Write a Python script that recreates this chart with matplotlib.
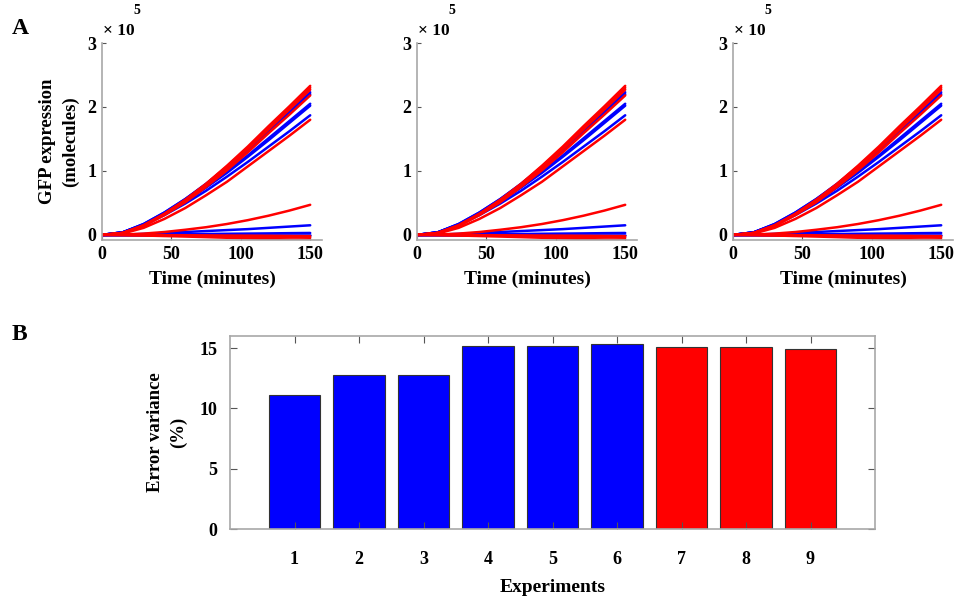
import matplotlib
matplotlib.use("Agg")
import matplotlib.pyplot as plt

plt.rcParams['font.family'] = ['Liberation Serif', 'DejaVu Serif']
plt.rcParams['font.weight'] = 'bold'

# ---- data: panel A (GFP expression, units of 1e5 molecules) ----
time_min = [0, 15, 30, 45, 60, 75, 90, 105, 120, 135, 150]

blue_curves = [
    [0, 0.04, 0.17, 0.35, 0.56, 0.80, 1.06, 1.34, 1.63, 1.93, 2.23],
    [0, 0.04, 0.17, 0.35, 0.56, 0.79, 1.05, 1.32, 1.61, 1.90, 2.20],
    [0, 0.04, 0.16, 0.33, 0.53, 0.75, 0.99, 1.24, 1.51, 1.78, 2.05],
    [0, 0.04, 0.16, 0.33, 0.52, 0.74, 0.97, 1.22, 1.48, 1.75, 2.02],
    [0, 0.04, 0.15, 0.31, 0.49, 0.69, 0.91, 1.14, 1.38, 1.62, 1.87],
    [0, 0.005, 0.015, 0.03, 0.045, 0.06, 0.075, 0.09, 0.11, 0.13, 0.15],
    [0, 0.002, 0.005, 0.008, 0.011, 0.014, 0.017, 0.02, 0.023, 0.027, 0.03],
    [0, 0.0, 0.0, 0.0, 0.0, 0.0, 0.0, 0.0, 0.0, 0.0, 0.0],
]

red_curves = [
    [0, 0.03, 0.15, 0.33, 0.55, 0.80, 1.08, 1.38, 1.70, 2.01, 2.33],
    [0, 0.03, 0.15, 0.33, 0.54, 0.79, 1.07, 1.36, 1.68, 1.98, 2.30],
    [0, 0.03, 0.14, 0.32, 0.53, 0.78, 1.05, 1.34, 1.65, 1.96, 2.27],
    [0, 0.03, 0.14, 0.31, 0.51, 0.75, 1.01, 1.29, 1.59, 1.88, 2.18],
    [0, 0.02, 0.11, 0.25, 0.42, 0.62, 0.83, 1.07, 1.31, 1.55, 1.80],
    [0, 0.005, 0.02, 0.045, 0.08, 0.12, 0.17, 0.23, 0.30, 0.38, 0.47],
    [0, 0.0, -0.002, -0.004, -0.006, -0.008, -0.01, -0.012, -0.014, -0.017, -0.02],
    [0, -0.002, -0.005, -0.009, -0.013, -0.018, -0.023, -0.028, -0.033, -0.038, -0.045],
    [0, -0.004, -0.01, -0.018, -0.026, -0.035, -0.045, -0.055, -0.064, -0.072, -0.08],
]

# ---- data: panel B ----
experiments = [1, 2, 3, 4, 5, 6, 7, 8, 9]
error_variance = [11.1, 12.75, 12.75, 15.15, 15.2, 15.33, 15.08, 15.05, 14.9]
bar_colors = ['#0000ff'] * 6 + ['#ff0000'] * 3

SPINE = '#a8a8a8'
TICKC = '#555555'
W, H = 956, 601

fig = plt.figure(figsize=(9.56, 6.01), dpi=100)

lefts = [102, 417, 733]
for i, lx in enumerate(lefts):
    ax = fig.add_axes([lx / W, 1 - 240 / H, 220 / W, 197 / H])
    for c in blue_curves:
        ax.plot(time_min, c, color='#0000ff', lw=1.8, solid_capstyle='round')
    for c in red_curves:
        ax.plot(time_min, c, color='#ff0000', lw=1.8, solid_capstyle='round')
    ax.set_xlim(0, 158.5)
    ax.set_ylim(-0.08, 3)
    ax.set_xticks([0, 50, 100, 150])
    ax.set_yticks([0, 1, 2, 3])
    ax.spines['top'].set_visible(False)
    ax.spines['right'].set_visible(False)
    for s in ['left', 'bottom']:
        ax.spines[s].set_color(SPINE)
        ax.spines[s].set_linewidth(1.2)
    ax.tick_params(direction='in', length=3, color=TICKC, labelsize=13, pad=4)
    for lab in ax.get_xticklabels() + ax.get_yticklabels():
        lab.set_fontweight('bold')
    ax.set_xlabel('Time (minutes)', fontsize=14, fontweight='bold', labelpad=6)
    fig.text((lx + 1) / W, 1 - 31 / H, '× 10', fontsize=12.5,
             fontweight='bold', ha='left', va='center')
    fig.text((lx + 31) / W, 1 - 11 / H, '5', fontsize=10,
             fontweight='bold', ha='left', va='center')
    if i == 0:
        ax.set_ylabel('GFP expression\n(molecules)', fontsize=13.5,
                      fontweight='bold', labelpad=6, linespacing=1.45)

# panel B
axb = fig.add_axes([230 / W, 1 - 529 / H, 645 / W, 193 / H])
axb.bar(experiments, error_variance, width=0.8, color=bar_colors,
        edgecolor='#333333', linewidth=0.8)
axb.set_xlim(0, 10)
axb.set_ylim(0, 16)
axb.set_xticks(experiments)
axb.set_yticks([0, 5, 10, 15])
for s in axb.spines.values():
    s.set_color(SPINE)
    s.set_linewidth(1.2)
axb.tick_params(direction='in', length=5, color=TICKC, labelsize=13,
                top=True, right=True)
axb.tick_params(axis='x', pad=16)
axb.tick_params(axis='y', pad=9)
for lab in axb.get_xticklabels() + axb.get_yticklabels():
    lab.set_fontweight('bold')
axb.set_xlabel('Experiments', fontsize=14, fontweight='bold', labelpad=8)
axb.set_ylabel('Error variance\n(%)', fontsize=13.5, fontweight='bold',
               labelpad=9, linespacing=1.45)

fig.text(12 / W, 1 - 28 / H, 'A', fontsize=17, fontweight='bold', va='center')
fig.text(12 / W, 1 - 335 / H, 'B', fontsize=17, fontweight='bold', va='center')

fig.savefig('out.png', dpi=100)
